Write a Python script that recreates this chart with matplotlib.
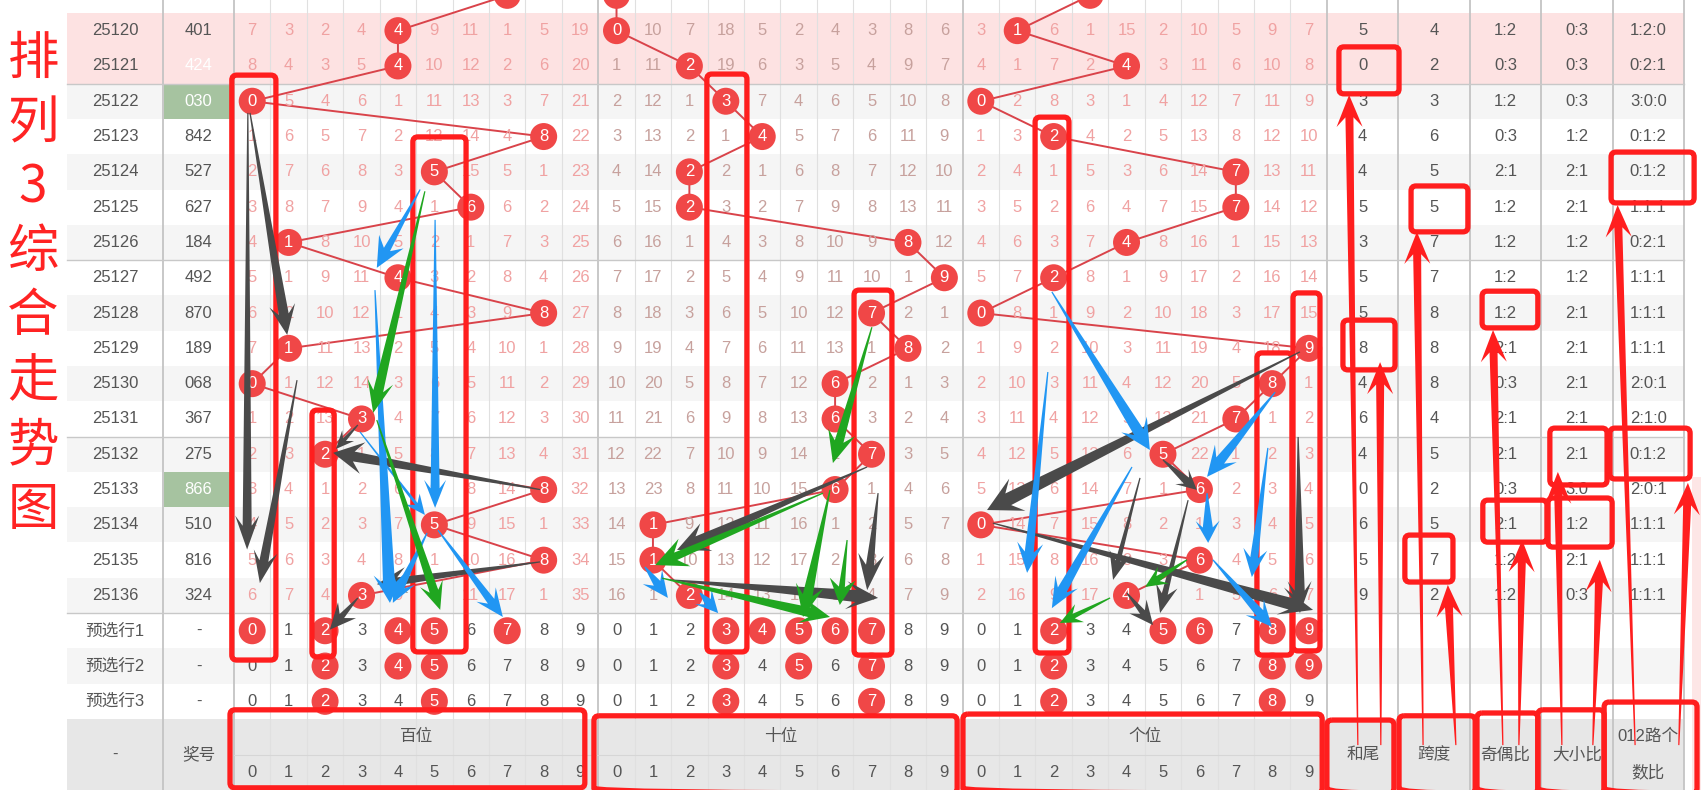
import numpy as np
import matplotlib.pyplot as plt
from matplotlib.patches import Rectangle, Circle, Polygon, FancyBboxPatch

plt.rcParams['font.family'] = ['Liberation Sans', 'Noto Sans CJK SC']

# ---------------- data ----------------
issues = ['25119', '25120', '25121', '25122', '25123', '25124', '25125', '25126', '25127',
          '25128', '25129', '25130', '25131', '25132', '25133', '25134', '25135', '25136']
draws = ['703', '401', '424', '030', '842', '527', '627', '184', '492',
         '870', '189', '068', '367', '275', '866', '510', '816', '324']

# omission counts, 0 where the digit came out
bai_miss = [[6, 2, 1, 3, 5, 8, 10, 0, 4, 18], [7, 3, 2, 4, 0, 9, 11, 1, 5, 19],
            [8, 4, 3, 5, 0, 10, 12, 2, 6, 20], [0, 5, 4, 6, 1, 11, 13, 3, 7, 21],
            [1, 6, 5, 7, 2, 12, 14, 4, 0, 22], [2, 7, 6, 8, 3, 0, 15, 5, 1, 23],
            [3, 8, 7, 9, 4, 1, 0, 6, 2, 24], [4, 0, 8, 10, 5, 2, 1, 7, 3, 25],
            [5, 1, 9, 11, 0, 3, 2, 8, 4, 26], [6, 2, 10, 12, 1, 4, 3, 9, 0, 27],
            [7, 0, 11, 13, 2, 5, 4, 10, 1, 28], [0, 1, 12, 14, 3, 6, 5, 11, 2, 29],
            [1, 2, 13, 0, 4, 7, 6, 12, 3, 30], [2, 3, 0, 1, 5, 8, 7, 13, 4, 31],
            [3, 4, 1, 2, 6, 9, 8, 14, 0, 32], [4, 5, 2, 3, 7, 0, 9, 15, 1, 33],
            [5, 6, 3, 4, 8, 1, 10, 16, 0, 34], [6, 7, 4, 0, 9, 2, 11, 17, 1, 35]]
shi_miss = [[0, 9, 6, 17, 4, 1, 3, 2, 7, 5], [0, 10, 7, 18, 5, 2, 4, 3, 8, 6],
            [1, 11, 0, 19, 6, 3, 5, 4, 9, 7], [2, 12, 1, 0, 7, 4, 6, 5, 10, 8],
            [3, 13, 2, 1, 0, 5, 7, 6, 11, 9], [4, 14, 0, 2, 1, 6, 8, 7, 12, 10],
            [5, 15, 0, 3, 2, 7, 9, 8, 13, 11], [6, 16, 1, 4, 3, 8, 10, 9, 0, 12],
            [7, 17, 2, 5, 4, 9, 11, 10, 1, 0], [8, 18, 3, 6, 5, 10, 12, 0, 2, 1],
            [9, 19, 4, 7, 6, 11, 13, 1, 0, 2], [10, 20, 5, 8, 7, 12, 0, 2, 1, 3],
            [11, 21, 6, 9, 8, 13, 0, 3, 2, 4], [12, 22, 7, 10, 9, 14, 1, 0, 3, 5],
            [13, 23, 8, 11, 10, 15, 0, 1, 4, 6], [14, 0, 9, 12, 11, 16, 1, 2, 5, 7],
            [15, 0, 10, 13, 12, 17, 2, 3, 6, 8], [16, 1, 0, 14, 13, 18, 3, 4, 7, 9]]
ge_miss = [[2, 11, 5, 0, 14, 1, 9, 4, 8, 6], [3, 0, 6, 1, 15, 2, 10, 5, 9, 7],
           [4, 1, 7, 2, 0, 3, 11, 6, 10, 8], [0, 2, 8, 3, 1, 4, 12, 7, 11, 9],
           [1, 3, 0, 4, 2, 5, 13, 8, 12, 10], [2, 4, 1, 5, 3, 6, 14, 0, 13, 11],
           [3, 5, 2, 6, 4, 7, 15, 0, 14, 12], [4, 6, 3, 7, 0, 8, 16, 1, 15, 13],
           [5, 7, 0, 8, 1, 9, 17, 2, 16, 14], [0, 8, 1, 9, 2, 10, 18, 3, 17, 15],
           [1, 9, 2, 10, 3, 11, 19, 4, 18, 0], [2, 10, 3, 11, 4, 12, 20, 5, 0, 1],
           [3, 11, 4, 12, 5, 13, 21, 0, 1, 2], [4, 12, 5, 13, 6, 0, 22, 1, 2, 3],
           [5, 13, 6, 14, 7, 1, 0, 2, 3, 4], [0, 14, 7, 15, 8, 2, 1, 3, 4, 5],
           [1, 15, 8, 16, 9, 3, 0, 4, 5, 6], [2, 16, 9, 17, 0, 4, 1, 5, 6, 7]]

he_wei = ['0', '5', '0', '3', '4', '4', '5', '3', '5', '5', '8', '4', '6', '4', '0', '6', '5', '9']
kua_du = ['7', '4', '2', '3', '6', '5', '5', '7', '7', '8', '8', '8', '4', '5', '2', '5', '7', '2']
ji_ou = ['2:1', '1:2', '0:3', '1:2', '0:3', '2:1', '1:2', '1:2', '1:2', '1:2', '2:1', '0:3',
         '2:1', '2:1', '0:3', '2:1', '1:2', '1:2']
da_xiao = ['1:2', '0:3', '0:3', '0:3', '1:2', '2:1', '2:1', '1:2', '1:2', '2:1', '2:1', '2:1',
           '2:1', '2:1', '3:0', '1:2', '2:1', '0:3']
lu_012 = ['2:1:0', '1:2:0', '0:2:1', '3:0:0', '0:1:2', '0:1:2', '1:1:1', '0:2:1', '1:1:1',
          '1:1:1', '1:1:1', '2:0:1', '2:1:0', '0:1:2', '2:0:1', '1:1:1', '1:1:1', '1:1:1']

pre_names = ['预选行1', '预选行2', '预选行3']
pre_bai = [[0, 2, 4, 5, 7], [2, 4, 5], [2, 5]]
pre_shi = [[3, 4, 5, 6, 7], [3, 5, 7], [3, 7]]
pre_ge = [[2, 5, 6, 8, 9], [2, 8, 9], [2, 8]]

pink_issues = ['25120', '25121']
green_cells = ['25122', '25133']
white_cells = ['25121']

title_chars = list('排列3综合走势图')
pos_heads = ['百位', '十位', '个位']
stat_heads = ['和尾', '跨度', '奇偶比', '大小比']

# ---------------- hand drawn marks (table units: column, row) ----------------
red_boxes = [(-0.56, 1.26, 0.65, 17.83), (4.41, 3.01, 5.87, 17.60), (1.64, 10.75, 2.25, 17.74),
             (12.48, 1.23, 13.58, 17.60), (16.52, 7.35, 17.56, 17.69), (21.49, 2.45, 22.42, 17.63),
             (28.57, 7.43, 29.31, 17.57), (27.58, 9.13, 28.54, 17.69),
             (-0.61, 19.24, 9.13, 21.45), (9.38, 19.41, 19.35, 21.6), (19.51, 19.36, 29.37, 21.6),
             (29.50, 19.53, 31.34, 21.6), (31.48, 19.41, 33.57, 21.6), (33.62, 19.33, 35.29, 21.6),
             (35.29, 19.24, 37.11, 21.6), (37.11, 19.02, 39.66, 21.6),
             (29.83, 0.46, 31.48, 1.79), (31.81, 4.40, 33.37, 5.70), (37.30, 3.44, 39.58, 4.88),
             (33.76, 7.38, 35.29, 8.42), (29.94, 8.20, 31.37, 9.61), (35.62, 11.26, 37.19, 12.87),
             (37.27, 11.26, 39.47, 12.70), (33.78, 13.30, 35.54, 14.49), (35.57, 13.24, 37.33, 14.63),
             (31.64, 14.29, 32.96, 15.62)]

dark_arrows = [(-0.12, 2.33, -0.14, 14.7, 9, 24, 34), (-0.06, 2.33, 0.96, 8.62, 10, 26, 30),
               (1.23, 9.9, 0.21, 15.65, 9, 24, 32), (7.9, 13.0, 2.22, 11.96, 10, 32, 30),
               (2.9, 11.17, 2.3, 11.85, 4, 16, 18), (7.9, 15.05, 3.42, 15.68, 8, 26, 30),
               (2.9, 16.07, 2.13, 16.97, 6, 24, 26), (16.88, 12.36, 11.66, 14.71, 10, 30, 32),
               (11.47, 15.56, 17.18, 16.07, 12, 28, 32), (17.18, 13.10, 16.88, 15.85, 8, 26, 36),
               (28.76, 9.10, 20.17, 13.58, 13, 36, 34), (25.0, 12.16, 25.93, 13.01, 8, 20, 20),
               (24.37, 12.67, 23.63, 15.56, 5, 22, 28), (25.69, 13.30, 24.92, 16.50, 6, 22, 28),
               (20.33, 13.95, 29.12, 16.41, 12, 28, 34), (28.71, 11.51, 28.76, 16.50, 10, 24, 32),
               (24.01, 15.93, 24.73, 16.84, 6, 22, 24)]
blue_arrows = [(4.61, 4.5, 3.42, 6.72, 7, 28, 30), (5.02, 5.36, 5.02, 13.52, 9, 22, 28),
               (3.37, 7.35, 3.78, 16.21, 12, 30, 28), (4.8, 14.23, 3.86, 16.21, 8, 24, 26),
               (5.1, 14.15, 6.88, 16.61, 8, 24, 28), (2.96, 11.37, 4.74, 13.72, 3, 18, 20),
               (10.78, 15.19, 11.41, 16.07, 8, 24, 26), (12.29, 15.93, 12.79, 16.50, 8, 22, 22),
               (21.95, 7.40, 24.64, 11.88, 11, 30, 30), (28.08, 10.24, 26.21, 12.64, 10, 28, 30),
               (21.84, 9.67, 21.27, 15.36, 9, 26, 30), (24.15, 12.36, 21.95, 16.36, 10, 26, 30),
               (26.21, 13.10, 26.24, 14.51, 10, 24, 22), (26.37, 14.99, 27.99, 16.89, 9, 24, 26),
               (27.88, 11.82, 27.44, 15.48, 8, 24, 28)]
green_arrows = [(4.74, 4.55, 3.32, 10.83, 10, 26, 32), (3.42, 11.03, 5.16, 16.41, 9, 24, 28),
                (17.01, 8.40, 15.94, 12.25, 9, 28, 32), (15.67, 13.10, 11.06, 15.14, 8, 30, 32),
                (15.86, 13.01, 15.12, 16.61, 10, 28, 32), (11.25, 15.51, 15.86, 16.61, 10, 26, 30),
                (16.33, 14.43, 16.13, 16.27, 6, 26, 26), (25.66, 14.99, 24.51, 15.76, 6, 20, 22),
                (23.55, 16.07, 22.17, 16.78, 5, 20, 22)]
red_arrows = [(30.35, 20.24, 30.11, 1.82), (30.98, 20.24, 30.96, 9.39), (32.14, 20.24, 31.97, 5.70),
              (33.04, 20.24, 32.82, 15.70), (34.33, 20.24, 34.06, 8.48), (34.77, 20.24, 34.86, 14.43),
              (35.95, 20.24, 35.84, 12.50), (36.80, 20.24, 36.99, 14.99), (37.96, 20.24, 37.48, 4.94),
              (39.16, 20.24, 39.41, 12.81)]

# ---------------- layout in pixels ----------------
W, H = 1701, 790
TOP, ROW_H = 13, 35.3
DIG_X0, COL_W = 234, 36.43
STAT_X0, STAT_W = 1327, 71.4
T_LEFT, T_RIGHT = 67, 1684
ISS_R = 163
HEAD_TOP = TOP + ROW_H * 20


def X(c):
    return DIG_X0 + COL_W * (c + 0.5)


def Y(r):
    return TOP + ROW_H * (r + 0.5)


def taper_arrow(ax, c0, r0, c1, r1, w1, hw, hl, color, w0=1.2):
    x0, y0, x1, y1 = X(c0), Y(r0), X(c1), Y(r1)
    d = np.array([x1 - x0, y1 - y0])
    u = d / np.hypot(*d)
    n = np.array([-u[1], u[0]])
    p0, tip = np.array([x0, y0]), np.array([x1, y1])
    neck = tip - u * hl * 0.7
    barb = tip - u * hl
    pts = [p0 + n * w0 / 2, neck + n * w1 / 2, barb + n * hw / 2, tip,
           barb - n * hw / 2, neck - n * w1 / 2, p0 - n * w0 / 2]
    ax.add_patch(Polygon(pts, closed=True, fc=color, ec='none', zorder=8))


fig = plt.figure(figsize=(17.01, 7.90), dpi=100)
ax = fig.add_axes([0, 0, 1, 1])
ax.set_xlim(0, W)
ax.set_ylim(H, 0)
ax.axis('off')

miss_cols = ['#f0a2a2', '#c7a19d', '#f0a2a2']
txt = '#555555'
red = '#f04747'

# row backgrounds
n_rows = len(issues)
for i in range(n_rows + 3):
    r = i - 1
    if i < n_rows and issues[i] in pink_issues:
        bg = '#fde2e2'
    elif r % 2 == 0:
        bg = '#f5f5f5'
    else:
        bg = 'white'
    ax.add_patch(Rectangle((T_LEFT, Y(r) - ROW_H / 2), T_RIGHT - T_LEFT, ROW_H, fc=bg, ec='none', zorder=0))
ax.add_patch(Rectangle((T_LEFT, HEAD_TOP), T_RIGHT - T_LEFT, H - HEAD_TOP, fc='#e7e7e7', ec='none', zorder=0))
ax.add_patch(Rectangle((1692, 477), 20, 320, fc='#fde6e6', ec='none', zorder=0))

# grid lines
for j in range(1, 30):
    if j % 10:
        ax.plot([X(j - 0.5)] * 2, [0, H], color='#e0e0e0', lw=0.8, zorder=1)
for xe in [ISS_R, X(-0.5), X(9.5), X(19.5), X(29.5)] + [STAT_X0 + STAT_W * k for k in range(1, 6)]:
    ax.plot([xe, xe], [0, H], color='#c4c4c4', lw=1.3, zorder=1)
for rb in [1, 6, 11, 16]:
    ax.plot([T_LEFT, T_RIGHT], [Y(rb + 0.5)] * 2, color='#c8c8c8', lw=1.0, zorder=1)
sub_y = HEAD_TOP + (H - HEAD_TOP) / 2
ax.plot([X(-0.5), X(29.5)], [sub_y, sub_y], color='#d6d6d6', lw=0.8, zorder=1)

# issue / draw columns
for i, iss in enumerate(issues):
    r = i - 1
    ax.text((T_LEFT + ISS_R) / 2, Y(r), iss, ha='center', va='center', fontsize=12, color=txt, zorder=4)
    ncol = txt
    if iss in green_cells:
        ax.add_patch(Rectangle((ISS_R + 1, Y(r) - ROW_H / 2), X(-0.5) - ISS_R - 2, ROW_H,
                               fc='#a6c3a0', ec='none', zorder=0.5))
        ncol = 'white'
    elif iss in white_cells:
        ncol = 'white'
    ax.text((ISS_R + X(-0.5)) / 2, Y(r), draws[i], ha='center', va='center', fontsize=12, color=ncol, zorder=4)

# trend lines, circles and omission numbers
for p, miss in enumerate([bai_miss, shi_miss, ge_miss]):
    xs = [X(p * 10 + int(d[p])) for d in draws]
    ys = [Y(i - 1) for i in range(n_rows)]
    ax.plot(xs, ys, color='#d9434a', lw=1.4, zorder=2)
    for i, row in enumerate(miss):
        r = i - 1
        for dgt, v in enumerate(row):
            x = X(p * 10 + dgt)
            if dgt == int(draws[i][p]):
                ax.add_patch(Circle((x, Y(r)), 13.5, fc=red, ec='none', zorder=3))
                ax.text(x, Y(r), str(dgt), ha='center', va='center', fontsize=12, color='white', zorder=4)
            else:
                ax.text(x, Y(r), str(v), ha='center', va='center', fontsize=12, color=miss_cols[p], zorder=4)

# stats columns
for k, col in enumerate([he_wei, kua_du, ji_ou, da_xiao, lu_012]):
    for i, s in enumerate(col):
        ax.text(STAT_X0 + STAT_W * (k + 0.5), Y(i - 1), s, ha='center', va='center',
                fontsize=12, color=txt, zorder=4)

# preselect rows
for q, name in enumerate(pre_names):
    r = 17 + q
    ax.text((T_LEFT + ISS_R) / 2, Y(r), name, ha='center', va='center', fontsize=12, color=txt, zorder=4)
    ax.text((ISS_R + X(-0.5)) / 2, Y(r), '-', ha='center', va='center', fontsize=12, color=txt, zorder=4)
    for p, sel in enumerate([pre_bai[q], pre_shi[q], pre_ge[q]]):
        for dgt in range(10):
            x = X(p * 10 + dgt)
            if dgt in sel:
                ax.add_patch(Circle((x, Y(r)), 13.5, fc=red, ec='none', zorder=3))
                ax.text(x, Y(r), str(dgt), ha='center', va='center', fontsize=12, color='white', zorder=4)
            else:
                ax.text(x, Y(r), str(dgt), ha='center', va='center', fontsize=12, color=txt, zorder=4)

# header
mid_y = (HEAD_TOP + H) / 2
ax.text((T_LEFT + ISS_R) / 2, mid_y, '-', ha='center', va='center', fontsize=12, color=txt)
ax.text((ISS_R + X(-0.5)) / 2, mid_y, '奖号', ha='center', va='center', fontsize=12, color=txt)
for p, name in enumerate(pos_heads):
    ax.text(X(p * 10 + 4.5), (HEAD_TOP + sub_y) / 2, name, ha='center', va='center', fontsize=12, color=txt)
    for dgt in range(10):
        ax.text(X(p * 10 + dgt), (sub_y + H) / 2, str(dgt), ha='center', va='center', fontsize=12, color=txt)
for k, name in enumerate(stat_heads):
    ax.text(STAT_X0 + STAT_W * (k + 0.5), mid_y, name, ha='center', va='center', fontsize=12, color=txt)
ax.text(STAT_X0 + STAT_W * 4.5, (HEAD_TOP + sub_y) / 2, '012路个', ha='center', va='center', fontsize=12, color=txt)
ax.text(STAT_X0 + STAT_W * 4.5, (sub_y + H) / 2, '数比', ha='center', va='center', fontsize=12, color=txt)

# vertical title
for k, ch in enumerate(title_chars):
    ax.text(33, 59 + 64.4 * k, ch, ha='center', va='center', fontsize=37, color='#ff2323',
            family=['Noto Sans CJK SC', 'DejaVu Sans'])

# red boxes
for c0, r0, c1, r1 in red_boxes:
    x0, y0, x1, y1 = X(c0), Y(r0), X(c1), Y(r1)
    ax.add_patch(FancyBboxPatch((x0, y0), x1 - x0, y1 - y0, boxstyle='round,pad=0,rounding_size=5',
                                fill=False, ec='#ff1e1e', lw=3.8, zorder=7))

# arrows
for a in dark_arrows:
    taper_arrow(ax, *a, color='#4a4a4a')
for a in blue_arrows:
    taper_arrow(ax, *a, color='#2196f3')
for a in green_arrows:
    taper_arrow(ax, *a, color='#20a620')
for a in red_arrows:
    taper_arrow(ax, *a, 8, 26, 32, color='#ff1e1e')

fig.savefig('out.png', dpi=100)
